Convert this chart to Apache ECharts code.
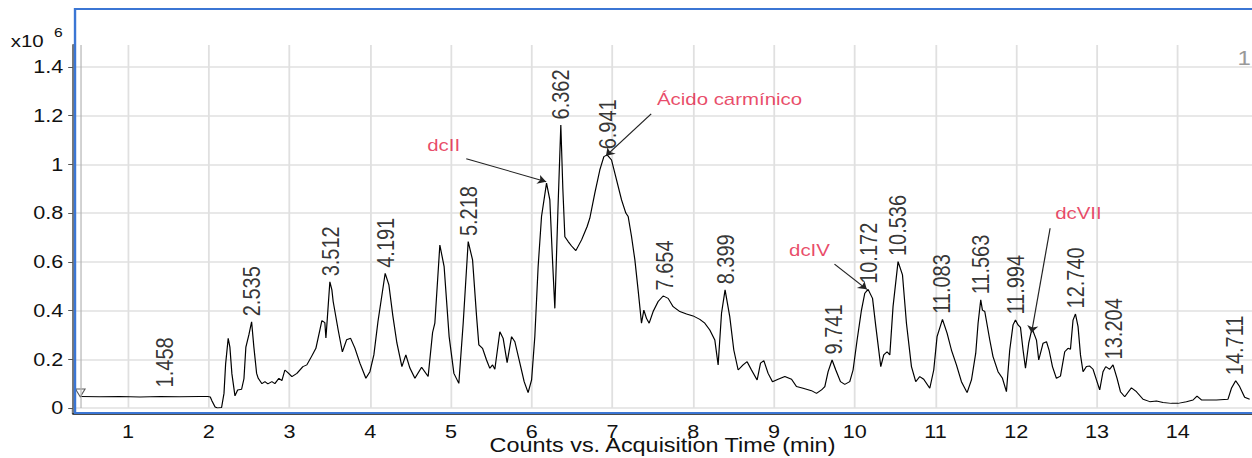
<!DOCTYPE html>
<html>
<head>
<meta charset="utf-8">
<script src="https://cdn.jsdelivr.net/npm/echarts@6/dist/echarts.min.js"></script>
<style>
html, body { margin: 0; padding: 0; background: #fff; overflow: hidden; }
/* the original picture is stretched sideways, so the chart is drawn narrower and scaled */
#tic { width: 1043px; height: 458px; transform: scaleX(1.20038); transform-origin: 0 0; }
</style>
</head>
<body>
<div id="tic"></div>
<script>
// acquisition time (min) and counts (x10^6)
var timeMin = [0.41,0.65,0.90,1.15,1.40,1.64,1.89,1.99,2.02,2.04,2.08,2.11,2.16,2.19,2.21,2.242,2.263,2.288,2.326,2.359,
  2.408,2.437,2.461,2.498,2.532,2.56,2.594,2.614,2.66,2.697,2.733,2.783,2.82,2.87,2.907,2.944,2.981,3.031,3.093,3.167,
  3.216,3.278,3.328,3.377,3.402,3.439,3.452,3.47,3.501,3.526,3.542,3.604,3.656,3.708,3.758,3.811,3.873,3.947,3.997,4.046,
  4.096,4.186,4.232,4.281,4.331,4.393,4.442,4.492,4.554,4.637,4.718,4.773,4.801,4.863,4.916,4.978,5.037,5.098,5.152,5.214,
  5.268,5.318,5.346,5.392,5.441,5.482,5.516,5.544,5.606,5.647,5.696,5.751,5.792,5.854,5.907,5.956,5.999,6.039,6.08,6.122,
  6.184,6.225,6.258,6.287,6.324,6.361,6.386,6.411,6.452,6.494,6.547,6.618,6.687,6.72,6.782,6.844,6.894,6.935,6.989,7.051,
  7.113,7.166,7.195,7.237,7.278,7.318,7.36,7.389,7.422,7.455,7.504,7.566,7.628,7.69,7.752,7.835,7.918,7.999,8.082,8.144,
  8.206,8.268,8.309,8.351,8.395,8.453,8.503,8.557,8.618,8.668,8.722,8.792,8.834,8.875,8.928,8.982,9.052,9.135,9.218,9.279,
  9.361,9.465,9.527,9.589,9.63,9.671,9.72,9.766,9.824,9.877,9.939,9.98,10.03,10.084,10.125,10.166,10.221,10.262,10.323,10.36,
  10.401,10.435,10.475,10.537,10.592,10.641,10.703,10.756,10.806,10.855,10.93,10.979,11.02,11.087,11.144,11.198,11.26,11.322,11.392,11.446,
  11.499,11.528,11.561,11.582,11.611,11.673,11.713,11.775,11.83,11.879,11.92,11.961,11.991,12.023,12.053,12.085,12.115,12.155,12.196,12.251,
  12.279,12.333,12.375,12.407,12.449,12.498,12.548,12.601,12.642,12.672,12.704,12.734,12.766,12.796,12.828,12.87,12.91,12.952,12.994,13.034,
  13.075,13.109,13.158,13.199,13.249,13.291,13.344,13.427,13.489,13.571,13.654,13.737,13.818,13.922,14.004,14.108,14.19,14.239,14.294,14.375,
  14.479,14.623,14.665,14.718,14.767,14.829,14.891];
var counts = [0.047,0.046,0.047,0.045,0.047,0.046,0.047,0.047,0.045,0.030,0.004,0.000,0.002,0.060,0.180,0.286,0.250,0.140,0.050,0.074,
  0.077,0.120,0.250,0.300,0.354,0.250,0.142,0.122,0.100,0.108,0.099,0.108,0.100,0.122,0.112,0.156,0.145,0.129,0.142,0.170,
  0.177,0.214,0.245,0.320,0.359,0.350,0.287,0.370,0.518,0.485,0.437,0.320,0.230,0.280,0.286,0.246,0.184,0.122,0.149,0.218,
  0.353,0.553,0.505,0.378,0.267,0.170,0.218,0.164,0.122,0.167,0.129,0.310,0.348,0.669,0.580,0.293,0.142,0.101,0.348,0.683,
  0.608,0.375,0.259,0.245,0.197,0.163,0.177,0.159,0.313,0.286,0.186,0.293,0.272,0.184,0.108,0.063,0.115,0.293,0.580,0.786,
  0.923,0.854,0.608,0.409,0.800,1.162,0.900,0.703,0.683,0.665,0.646,0.690,0.745,0.779,0.882,0.977,1.032,1.039,1.018,0.936,
  0.854,0.800,0.786,0.703,0.608,0.485,0.348,0.402,0.368,0.348,0.396,0.437,0.460,0.450,0.416,0.396,0.386,0.378,0.364,0.348,
  0.320,0.279,0.177,0.389,0.485,0.375,0.238,0.156,0.177,0.190,0.156,0.115,0.184,0.194,0.142,0.108,0.118,0.129,0.118,0.088,
  0.081,0.071,0.060,0.074,0.088,0.149,0.197,0.156,0.108,0.097,0.108,0.156,0.279,0.402,0.471,0.487,0.450,0.334,0.170,0.218,
  0.231,0.218,0.416,0.601,0.546,0.348,0.170,0.108,0.129,0.118,0.081,0.156,0.293,0.364,0.307,0.238,0.177,0.108,0.063,0.115,
  0.225,0.348,0.444,0.402,0.396,0.279,0.211,0.149,0.122,0.067,0.238,0.341,0.361,0.341,0.331,0.238,0.163,0.266,0.327,0.279,
  0.197,0.266,0.272,0.238,0.170,0.122,0.131,0.231,0.245,0.241,0.361,0.386,0.334,0.218,0.149,0.170,0.172,0.159,0.115,0.074,
  0.149,0.170,0.159,0.177,0.122,0.067,0.046,0.083,0.067,0.036,0.026,0.029,0.023,0.019,0.019,0.026,0.033,0.049,0.033,0.033,
  0.033,0.036,0.081,0.112,0.088,0.044,0.036];

// retention times written over the peaks, and the apex height under each label
var peakRT = ['1.458','2.535','3.512','4.191','5.218','6.362','6.941','7.654','8.399','9.741',
  '10.172','10.536','11.083','11.563','11.994','12.740','13.204','14.711'];
var peakTop = [0.062,0.354,0.518,0.553,0.683,1.162,1.039,0.46,0.485,0.197,
  0.487,0.601,0.364,0.444,0.361,0.386,0.177,0.112];

// red compound names and their arrows
var noteText = ['dcII', 'Ácido carmínico', 'dcIV', 'dcVII'];
var noteTime = [4.91, 8.45, 9.44, 12.77];
var noteCount = [1.08, 1.268, 0.649, 0.80];
var arrowFrom = [[5.19, 1.023], [7.48, 1.207], [9.75, 0.591], [12.42, 0.738]];
var arrowTo = [[6.18, 0.929], [6.92, 1.035], [10.15, 0.487], [12.19, 0.309]];

// start of acquisition marker
var startTime = 0.41;
var startCount = 0.062;

var FONT = "'Liberation Sans', Arial, sans-serif";

var traceData = [];
for (var i = 0; i < timeMin.length; i++) {
    traceData.push([timeMin[i], counts[i]]);
}
var peakData = [];
for (var j = 0; j < peakRT.length; j++) {
    peakData.push([parseFloat(peakRT[j]), peakTop[j], peakRT[j]]);
}
var noteData = [];
for (var k = 0; k < noteText.length; k++) {
    noteData.push([noteTime[k], noteCount[k], noteText[k]]);
}
var arrows = [];
for (var a = 0; a < arrowFrom.length; a++) {
    arrows.push([{ coord: arrowFrom[a] }, { coord: arrowTo[a] }]);
}

var myChart = echarts.init(document.getElementById('tic'), null, { renderer: 'svg' });
var option = {
    animation: false,
    grid: { left: 60.8, right: 0, top: 45, bottom: 50, outerBoundsMode: 'none', containLabel: false },
    xAxis: {
        type: 'value',
        min: 0.32,
        max: 14.92,
        splitNumber: 15,
        minInterval: 1,
        maxInterval: 1,
        offset: 6,
        axisLine: { onZero: false, lineStyle: { color: '#111', width: 1.5 } },
        axisTick: { show: false },
        axisLabel: { color: '#111', fontSize: 18, fontFamily: FONT, margin: 9, showMinLabel: false, showMaxLabel: false },
        splitLine: { show: true, showMinLine: false, showMaxLine: false, lineStyle: { color: '#e0e0e0', width: 1.5 } },
        name: 'Counts vs. Acquisition Time (min)',
        nameLocation: 'middle',
        nameGap: 22,
        nameMoveOverlap: false,
        nameTextStyle: { color: '#111', fontSize: 19.5, fontFamily: FONT }
    },
    yAxis: {
        type: 'value',
        min: 0,
        max: 1.49,
        interval: 0.2,
        axisLine: { show: true, onZero: false, lineStyle: { color: '#777', width: 2 } },
        axisTick: { show: true, length: 4, lineStyle: { color: '#555' } },
        axisLabel: {
            color: '#111', fontSize: 18, fontFamily: FONT, margin: 8, showMaxLabel: false,
            formatter: function (v) { return String(Math.round(v * 10) / 10); }
        },
        splitLine: { show: true, showMaxLine: false, lineStyle: { color: '#e0e0e0', width: 1.5 } }
    },
    graphic: [
        { type: 'text', left: 9, top: 33, style: { text: 'x10', fontSize: 17, fontFamily: FONT, fill: '#111' } },
        { type: 'text', left: 45, top: 26, style: { text: '6', fontSize: 13, fontFamily: FONT, fill: '#111' } },
        { type: 'text', right: 1, top: 48, style: { text: '1', fontSize: 20, fontFamily: FONT, fill: '#999' } },
        { type: 'line', shape: { x1: 60.8, y1: 408, x2: 60.8, y2: 414 }, style: { stroke: '#777', lineWidth: 2 } },
        { type: 'rect', z: 100, shape: { x: 62.5, y: 9, width: 1000, height: 404 },
          style: { fill: 'none', stroke: '#3b76d4', lineWidth: 2 } }
    ],
    series: [
        {
            name: 'TIC',
            type: 'line',
            data: traceData,
            showSymbol: false,
            symbol: 'none',
            lineStyle: { color: '#000', width: 1 },
            markLine: {
                silent: true,
                symbol: 'none',
                label: { show: false },
                lineStyle: { color: '#b5b5b5', type: 'solid', width: 1 },
                data: [{ xAxis: startTime }]
            }
        },
        {
            name: 'start',
            type: 'scatter',
            data: [[startTime, startCount]],
            symbol: 'triangle',
            symbolRotate: 180,
            symbolSize: 8,
            itemStyle: { color: '#fff', borderColor: '#333', borderWidth: 1 }
        },
        {
            name: 'peaks',
            type: 'scatter',
            data: peakData,
            symbolSize: 1,
            itemStyle: { color: 'rgba(0,0,0,0)' },
            label: {
                show: true,
                position: 'top',
                distance: 5,
                rotate: 90,
                align: 'left',
                verticalAlign: 'middle',
                color: '#000',
                fontSize: 20,
                fontFamily: FONT,
                formatter: function (p) { return p.data[2]; }
            }
        },
        {
            name: 'notes',
            type: 'scatter',
            data: noteData,
            symbolSize: 1,
            itemStyle: { color: 'rgba(0,0,0,0)' },
            label: {
                show: true,
                position: 'inside',
                align: 'center',
                verticalAlign: 'middle',
                color: '#e31b44',
                fontSize: 17,
                fontFamily: FONT,
                formatter: function (p) { return p.data[2]; }
            },
            markLine: {
                silent: true,
                symbol: ['none', 'arrow'],
                symbolSize: 7,
                label: { show: false },
                lineStyle: { color: '#222', type: 'solid', width: 1 },
                data: arrows
            }
        }
    ]
};
myChart.setOption(option);
</script>
</body>
</html>
